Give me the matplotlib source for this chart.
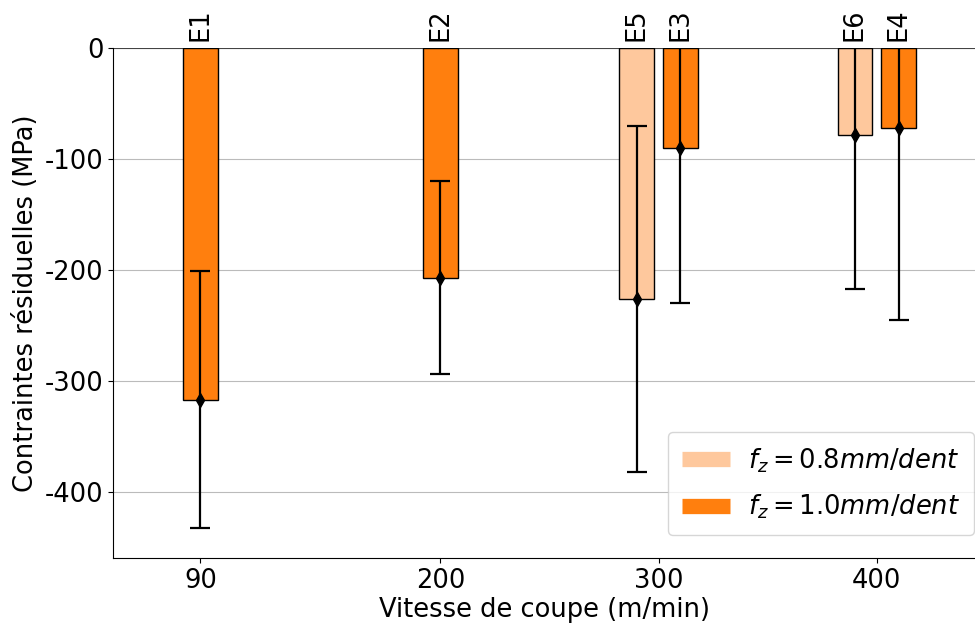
import numpy as np
import matplotlib.pyplot as plt
from matplotlib.lines import Line2D

plt.rcParams['axes.unicode_minus'] = False
plt.rcParams['font.size'] = 18.5

# données
noms_08 = ['E5', 'E6']
vitesse_08 = [300, 400]
moy_08 = [-226, -78]
err_08 = [156, 139]

noms_10 = ['E1', 'E2', 'E3', 'E4']
vitesse_10 = [90, 200, 300, 400]
moy_10 = [-317, -207, -90, -72]
err_10 = [116, 87, 140, 173]

couleur = '#ff7f0e'
clair = '#fec89d'
largeur = 16

fig, ax = plt.subplots(figsize=(9.75, 6.25), dpi=100)

# decalage quand les deux avances existent pour la meme vitesse
x08 = np.array(vitesse_08, dtype=float) - 10
x10 = np.array([v + 10 if v in vitesse_08 else v for v in vitesse_10], dtype=float)

ax.bar(x08, moy_08, width=largeur, color=clair, edgecolor='black', linewidth=1, zorder=2)
ax.bar(x10, moy_10, width=largeur, color=couleur, edgecolor='black', linewidth=1, zorder=2)

ax.errorbar(x08, moy_08, yerr=err_08, fmt='d', color='black', ecolor='black',
            capsize=7.5, markersize=7, elinewidth=1.6, capthick=1.6, zorder=3)
ax.errorbar(x10, moy_10, yerr=err_10, fmt='d', color='black', ecolor='black',
            capsize=7.5, markersize=7, elinewidth=1.6, capthick=1.6, zorder=3)

for x, nom in zip(x08, noms_08):
    ax.text(x, 6, nom, rotation=90, ha='center', va='bottom')
for x, nom in zip(x10, noms_10):
    ax.text(x, 6, nom, rotation=90, ha='center', va='bottom')

ax.axhline(0, color='#444444', linewidth=1.5, zorder=1)
ax.set_xlim(50, 445)
ax.set_ylim(-460, 0)
ax.set_xticks(vitesse_10)
ax.set_yticks([0, -100, -200, -300, -400])
ax.yaxis.grid(True, color='#bbbbbb', zorder=0)
ax.set_axisbelow(True)
ax.spines['top'].set_visible(False)
ax.spines['right'].set_visible(False)

ax.set_xlabel('Vitesse de coupe (m/min)', labelpad=2)
ax.set_ylabel('Contraintes résiduelles (MPa)')

poignees = [Line2D([0], [0], color=clair, lw=11, solid_capstyle='butt'),
            Line2D([0], [0], color=couleur, lw=11, solid_capstyle='butt')]
ax.legend(poignees, ['$f_z = 0.8 mm/dent$', '$f_z = 1.0 mm/dent$'],
          loc='lower right', bbox_to_anchor=(0.999, 0.045), borderaxespad=0,
          borderpad=0.55, labelspacing=0.7, handlelength=1.85, handletextpad=0.7)

plt.subplots_adjust(left=0.116, right=1.0, top=0.923, bottom=0.107)
plt.savefig('out.png')
